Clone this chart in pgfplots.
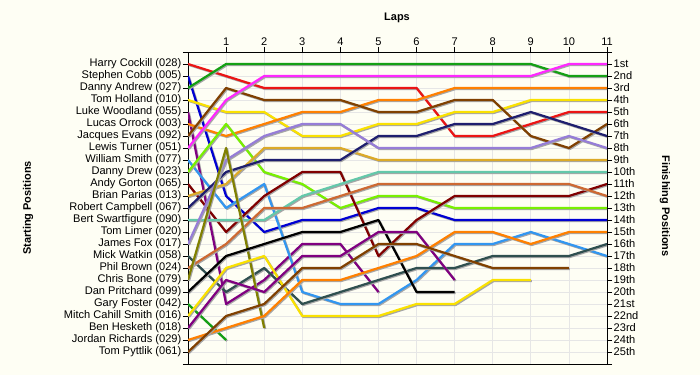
\documentclass[border=0pt]{standalone}
\usepackage{fontspec}
\setmainfont{Liberation Sans}
\usepackage{pgfplots}
\pgfplotsset{compat=1.18}
\definecolor{bg}{RGB}{254,254,244}
\definecolor{cred}{RGB}{235,20,20}
\definecolor{cblue}{RGB}{0,0,210}
\definecolor{cgreen}{RGB}{20,160,20}
\definecolor{cyellow}{RGB}{250,225,0}
\definecolor{cpurple}{RGB}{128,0,128}
\definecolor{corange}{RGB}{255,128,0}
\definecolor{cbrown}{RGB}{128,64,0}
\definecolor{cmagenta}{RGB}{255,40,255}
\definecolor{csky}{RGB}{50,150,240}
\definecolor{clime}{RGB}{120,240,0}
\definecolor{cmaroon}{RGB}{128,0,0}
\definecolor{cgold}{RGB}{220,170,40}
\definecolor{cnavy}{RGB}{30,30,110}
\definecolor{cteal}{RGB}{100,200,170}
\definecolor{clav}{RGB}{150,125,215}
\definecolor{cslate}{RGB}{47,79,79}
\definecolor{csienna}{RGB}{205,105,50}
\definecolor{colive}{RGB}{128,128,0}
\definecolor{gridc}{RGB}{230,230,230}
\begin{document}
\begin{tikzpicture}
\useasboundingbox (0,0) rectangle (700bp,375bp);
\fill[bg] (0,0) rectangle (700bp,375bp);
\begin{axis}[
  at={(188bp,11bp)}, anchor=south west, scale only axis,
  width=419bp, height=312bp,
  xmin=0, xmax=11, ymin=0, ymax=26, y dir=reverse,
  xtick={1,...,11}, xtick pos=upper, xticklabel pos=upper,
  ytick={0,...,26}, ytick pos=left,
  yticklabels={,Harry Cockill (028),Stephen Cobb (005),Danny Andrew (027),Tom Holland (010),Luke Woodland (055),Lucas Orrock (003),Jacques Evans (092),Lewis Turner (051),William Smith (077),Danny Drew (023),Andy Gorton (065),Brian Parias (013),Robert Campbell (067),Bert Swartfigure (090),Tom Limer (020),James Fox (017),Mick Watkin (058),Phil Brown (024),Chris Bone (079),Dan Pritchard (099),Gary Foster (042),Mitch Cahill Smith (016),Ben Hesketh (018),Jordan Richards (029),Tom Pyttlik (061),},
  tick align=outside, major tick length=5bp,
  tick style={black, line width=0.8bp},
  axis line style={black, line width=0.8bp},
  grid=major, major grid style={gridc, line width=0.8bp},
  /pgf/number format/assume math mode=true,
  tick label style={font=\fontsize{11.1}{12}\selectfont, inner sep=1.5bp},
  axis background/.style={fill=bg},
  every axis plot/.append style={line width=2.2bp, line join=round, no markers,
     preaction={draw=black!35, line width=2.2bp, transform canvas={xshift=1bp,yshift=-1bp}}},
]
\addplot[cred] coordinates {(0,1)(1,2)(2,3)(3,3)(4,3)(5,3)(6,3)(7,7)(8,7)(9,6)(10,5)(11,5)};
\addplot[cblue] coordinates {(0,2)(1,12)(2,15)(3,14)(4,14)(5,13)(6,13)(7,14)(8,14)(9,14)(10,14)(11,14)};
\addplot[cgreen] coordinates {(0,3)(1,1)(2,1)(3,1)(4,1)(5,1)(6,1)(7,1)(8,1)(9,1)(10,2)(11,2)};
\addplot[cyellow] coordinates {(0,4)(1,5)(2,5)(3,7)(4,7)(5,6)(6,6)(7,5)(8,5)(9,4)(10,4)(11,4)};
\addplot[cpurple] coordinates {(0,5)(1,21)(2,19)(3,16)(4,16)(5,20)};
\addplot[corange] coordinates {(0,6)(1,7)(2,6)(3,5)(4,5)(5,4)(6,4)(7,3)(8,3)(9,3)(10,3)(11,3)};
\addplot[cbrown] coordinates {(0,7)(1,3)(2,4)(3,4)(4,4)(5,5)(6,5)(7,4)(8,4)(9,7)(10,8)(11,6)};
\addplot[cmagenta] coordinates {(0,8)(1,4)(2,2)(3,2)(4,2)(5,2)(6,2)(7,2)(8,2)(9,2)(10,1)(11,1)};
\addplot[csky] coordinates {(0,9)(1,13)(2,11)(3,20)(4,21)(5,21)(6,19)(7,16)(8,16)(9,15)(10,16)(11,17)};
\addplot[clime] coordinates {(0,10)(1,6)(2,10)(3,11)(4,13)(5,12)(6,12)(7,13)(8,13)(9,13)(10,13)(11,13)};
\addplot[cmaroon] coordinates {(0,11)(1,15)(2,12)(3,10)(4,10)(5,17)(6,14)(7,12)(8,12)(9,12)(10,12)(11,11)};
\addplot[cgold] coordinates {(0,12)(1,11)(2,8)(3,8)(4,8)(5,9)(6,9)(7,9)(8,9)(9,9)(10,9)(11,9)};
\addplot[cnavy] coordinates {(0,13)(1,10)(2,9)(3,9)(4,9)(5,7)(6,7)(7,6)(8,6)(9,5)(10,6)(11,7)};
\addplot[cteal] coordinates {(0,14)(1,14)(2,14)(3,12)(4,11)(5,10)(6,10)(7,10)(8,10)(9,10)(10,10)(11,10)};
\addplot[clav] coordinates {(0,16)(1,9)(2,7)(3,6)(4,6)(5,8)(6,8)(7,8)(8,8)(9,8)(10,7)(11,8)};
\addplot[cslate] coordinates {(0,17)(1,20)(2,18)(3,21)(4,20)(5,19)(6,18)(7,18)(8,17)(9,17)(10,17)(11,16)};
\addplot[csienna] coordinates {(0,18)(1,16)(2,13)(3,13)(4,12)(5,11)(6,11)(7,11)(8,11)(9,11)(10,11)(11,12)};
\addplot[colive] coordinates {(0,19)(1,8)(2,23)};
\addplot[black] coordinates {(0,20)(1,17)(2,16)(3,15)(4,15)(5,14)(6,20)(7,20)};
\addplot[cgreen] coordinates {(0,21)(1,24)};
\addplot[cyellow] coordinates {(0,22)(1,18)(2,17)(3,22)(4,22)(5,22)(6,21)(7,21)(8,19)(9,19)};
\addplot[cpurple] coordinates {(0,23)(1,19)(2,20)(3,17)(4,17)(5,15)(6,15)(7,19)};
\addplot[corange] coordinates {(0,24)(1,23)(2,22)(3,19)(4,19)(5,18)(6,17)(7,15)(8,15)(9,16)(10,15)(11,15)};
\addplot[cbrown] coordinates {(0,25)(1,22)(2,21)(3,18)(4,18)(5,16)(6,16)(7,17)(8,18)(9,18)(10,18)};
\end{axis}
\begin{axis}[
  at={(188bp,11bp)}, anchor=south west, scale only axis,
  width=419bp, height=312bp,
  xmin=0, xmax=11, ymin=0, ymax=26, y dir=reverse,
  xtick=\empty, axis line style={draw=none},
  ytick={0,...,26}, ytick pos=right, yticklabel pos=right,
  yticklabels={,1st,2nd,3rd,4th,5th,6th,7th,8th,9th,10th,11th,12th,13th,14th,15th,16th,17th,18th,19th,20th,21st,22nd,23rd,24th,25th,},
  tick align=outside, major tick length=5bp,
  tick style={black, line width=0.8bp},
  tick label style={font=\fontsize{11.1}{12}\selectfont, inner sep=1.5bp},
]
\end{axis}
\node[font=\bfseries\fontsize{11}{12}\selectfont] at (397bp,357bp) {Laps};
\node[font=\bfseries\fontsize{11}{12}\selectfont, rotate=90] at (28bp,167bp) {Starting Positions};
\node[font=\bfseries\fontsize{11}{12}\selectfont, rotate=-90] at (665bp,169bp) {Finishing Positions};
\end{tikzpicture}
\end{document}
